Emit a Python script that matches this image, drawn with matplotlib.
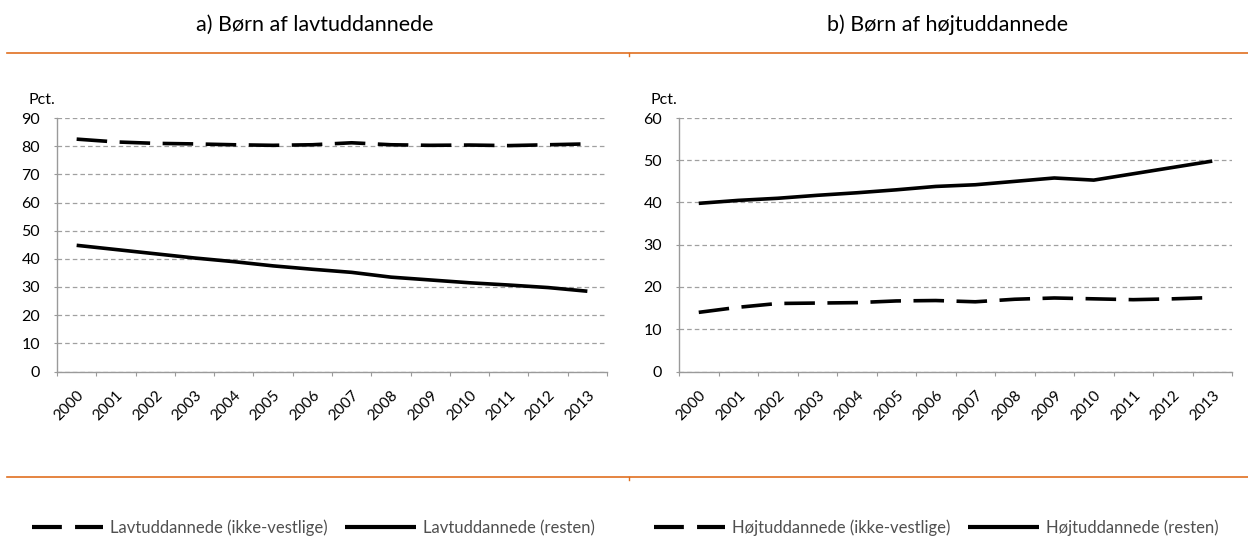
import matplotlib
matplotlib.use("Agg")
import matplotlib.pyplot as plt
from matplotlib.lines import Line2D

plt.rcParams['font.family'] = ['Lato', 'DejaVu Sans']
plt.rcParams['lines.scale_dashes'] = False

years = [str(y) for y in range(2000, 2014)]

lav_ikke_vestlige = [82.5, 81.5, 81.0, 80.8, 80.5, 80.3, 80.5, 81.2, 80.5, 80.3, 80.4, 80.2, 80.5, 80.8]
lav_resten = [44.8, 43.3, 41.8, 40.3, 39.0, 37.5, 36.3, 35.2, 33.5, 32.5, 31.5, 30.7, 29.8, 28.5]

hoj_ikke_vestlige = [14.0, 15.2, 16.1, 16.2, 16.3, 16.7, 16.8, 16.5, 17.1, 17.4, 17.2, 17.0, 17.2, 17.5]
hoj_resten = [39.8, 40.5, 41.0, 41.7, 42.3, 43.0, 43.8, 44.2, 45.0, 45.8, 45.3, 46.8, 48.3, 49.8]

titles = ["a) Børn af lavtuddannede", "b) Børn af højtuddannede"]
legend_labels = [["Lavtuddannede (ikke-vestlige)", "Lavtuddannede (resten)"],
                 ["Højtuddannede (ikke-vestlige)", "Højtuddannede (resten)"]]

W, H = 1248, 538
fig = plt.figure(figsize=(W / 100, H / 100), dpi=100)

DASH = (22, 9)
LW = 2.6
ORANGE = '#E07020'
GRID = '#a0a0a0'
SPINE = '#9a9a9a'

panels = [
    dict(x0=57, x1=607, data=(lav_ikke_vestlige, lav_resten), ymax=90, title_cx=315, leg_x=32),
    dict(x0=679, x1=1232, data=(hoj_ikke_vestlige, hoj_resten), ymax=60, title_cx=948, leg_x=654),
]
y_top, y_bot = 118, 371.5

for i, p in enumerate(panels):
    ax = fig.add_axes([p['x0'] / W, 1 - y_bot / H, (p['x1'] - p['x0']) / W, (y_bot - y_top) / H])
    x = list(range(len(years)))
    l1, = ax.plot(x, p['data'][0], color='black', lw=LW, dash_capstyle='butt')
    l1.set_dashes(DASH)
    ax.plot(x, p['data'][1], color='black', lw=LW, solid_capstyle='butt')
    ax.set_xlim(-0.5, len(years) - 0.5)
    ax.set_ylim(0, p['ymax'])
    ax.set_yticks(range(0, p['ymax'] + 1, 10))
    ax.yaxis.grid(True, color=GRID, linestyle=(0, (3.3, 2.2)), linewidth=0.9)
    ax.set_axisbelow(True)
    for s in ['top', 'right']:
        ax.spines[s].set_visible(False)
    for s in ['left', 'bottom']:
        ax.spines[s].set_color(SPINE)
        ax.spines[s].set_linewidth(1.0)
    ax.set_xticks([v - 0.5 for v in range(len(years) + 1)], minor=False)
    ax.set_xticklabels([])
    ax.tick_params(axis='x', which='major', length=3, color=SPINE, direction='out')
    ax.set_xticks(x, minor=True)
    ax.set_xticklabels(years, minor=True, rotation=45, ha='right', rotation_mode='anchor', fontsize=11)
    ax.tick_params(axis='x', which='minor', length=0, pad=12)
    ax.tick_params(axis='y', length=2.2, color=SPINE, labelsize=11.5, pad=10)
    ax.text(-0.003, 1.072, "Pct.", transform=ax.transAxes, fontsize=11.5, ha='right', va='center')

    fig.text(p['title_cx'] / W, 1 - 25 / H, titles[i], ha='center', va='center', fontsize=15.5)

    leg_handles = [Line2D([], [], color='black', lw=3.0, dashes=(21.5, 9.5), dash_capstyle='butt'),
                   Line2D([], [], color='black', lw=3.0, solid_capstyle='butt')]
    fig.legend(leg_handles, legend_labels[i], loc='center left',
               bbox_to_anchor=(p['leg_x'] / W, 1 - 528 / H), ncol=2, frameon=False,
               fontsize=12, handlelength=4.25, handletextpad=0.4, columnspacing=1.1,
               borderpad=0, borderaxespad=0, labelcolor='#505050')

# orange separator lines
for yy in (53, 477):
    fig.add_artist(Line2D([7 / W, 1.0], [1 - yy / H, 1 - yy / H], color=ORANGE, lw=1.2,
                          transform=fig.transFigure))
    fig.add_artist(Line2D([629 / W, 629 / W], [1 - yy / H, 1 - (yy + 2.5) / H], color=ORANGE, lw=1.0,
                          transform=fig.transFigure))

fig.savefig("out.png", dpi=100, facecolor='white')
